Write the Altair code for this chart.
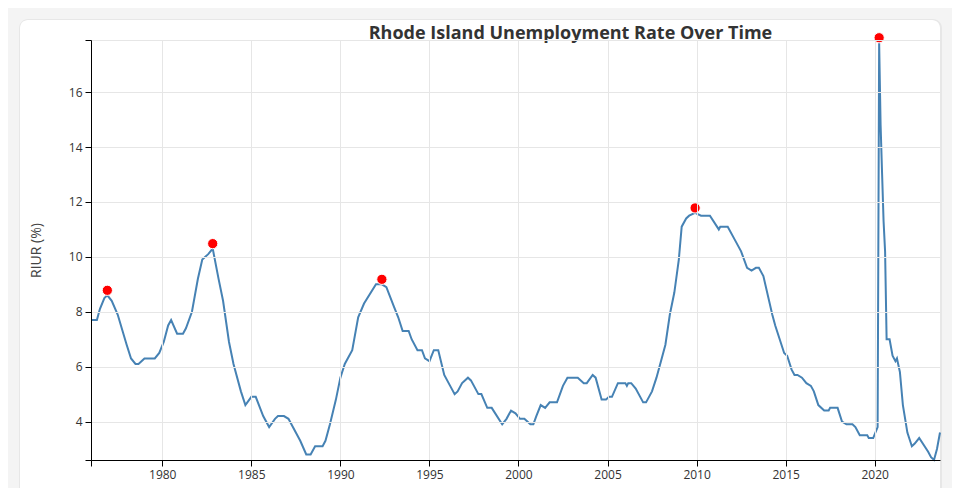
import altair as alt
import pandas as pd

# ---- data (monthly breakpoints) ----
months = [
    "1976-01", "1976-05", "1976-07", "1976-10", "1976-12", "1977-03", "1977-07", "1978-01",
    "1978-04", "1978-07", "1978-09", "1979-01", "1979-08", "1979-11", "1980-02", "1980-05",
    "1980-07", "1980-11", "1981-03", "1981-05", "1981-09", "1982-01", "1982-04", "1982-08",
    "1982-11", "1983-03", "1983-06", "1983-10", "1984-01", "1984-06", "1984-09", "1985-01",
    "1985-04", "1985-09", "1986-01", "1986-05", "1986-07", "1986-11", "1987-02", "1987-10",
    "1988-02", "1988-05", "1988-08", "1989-01", "1989-03", "1989-06", "1989-10", "1990-01",
    "1990-04", "1990-09", "1991-01", "1991-05", "1992-01", "1992-05", "1992-08", "1993-01",
    "1993-04", "1993-07", "1993-11", "1994-01", "1994-05", "1994-08", "1994-10", "1995-01",
    "1995-04", "1995-07", "1995-11", "1996-03", "1996-06", "1996-08", "1996-11", "1997-03",
    "1997-05", "1997-10", "1997-12", "1998-04", "1998-07", "1999-02", "1999-05", "1999-08",
    "1999-11", "2000-02", "2000-05", "2000-09", "2000-11", "2001-01", "2001-04", "2001-07",
    "2001-10", "2002-03", "2002-07", "2002-10", "2003-05", "2003-09", "2003-11", "2004-03",
    "2004-05", "2004-09", "2004-12", "2005-02", "2005-04", "2005-08", "2006-01", "2006-02",
    "2006-03", "2006-05", "2006-08", "2007-01", "2007-03", "2007-07", "2007-10", "2008-01",
    "2008-04", "2008-07", "2008-10", "2009-01", "2009-03", "2009-06", "2009-08", "2009-12",
    "2010-04", "2010-10", "2011-04", "2011-05", "2011-10", "2012-03", "2012-07", "2012-11",
    "2013-02", "2013-05", "2013-07", "2013-10", "2014-04", "2014-06", "2014-12", "2015-02",
    "2015-05", "2015-07", "2015-09", "2015-12", "2016-03", "2016-06", "2016-08", "2016-11",
    "2017-03", "2017-06", "2017-07", "2017-12", "2018-03", "2018-06", "2018-10", "2018-12",
    "2019-03", "2019-08", "2019-09", "2019-12", "2020-03", "2020-04", "2020-05", "2020-06",
    "2020-07", "2020-08", "2020-09", "2020-11", "2021-01", "2021-03", "2021-04", "2021-06",
    "2021-08", "2021-11", "2022-02", "2022-04", "2022-07", "2023-01", "2023-03", "2023-05",
    "2023-07", "2023-09",
]
rates = [
    7.7, 7.7, 8.1, 8.5, 8.6, 8.4, 7.9, 6.8,
    6.3, 6.1, 6.1, 6.3, 6.3, 6.5, 6.9, 7.5,
    7.7, 7.2, 7.2, 7.4, 8.0, 9.2, 9.9, 10.1,
    10.3, 9.2, 8.4, 6.9, 6.1, 5.1, 4.6, 4.9,
    4.9, 4.2, 3.8, 4.1, 4.2, 4.2, 4.1, 3.3,
    2.8, 2.8, 3.1, 3.1, 3.3, 3.9, 4.8, 5.6,
    6.1, 6.6, 7.8, 8.3, 9.0, 9.0, 8.9, 8.2,
    7.8, 7.3, 7.3, 7.0, 6.6, 6.6, 6.3, 6.2,
    6.6, 6.6, 5.7, 5.3, 5.0, 5.1, 5.4, 5.6,
    5.5, 5.0, 5.0, 4.5, 4.5, 3.9, 4.1, 4.4,
    4.3, 4.1, 4.1, 3.9, 3.9, 4.2, 4.6, 4.5,
    4.7, 4.7, 5.3, 5.6, 5.6, 5.4, 5.4, 5.7,
    5.6, 4.8, 4.8, 4.9, 4.9, 5.4, 5.4, 5.3,
    5.4, 5.4, 5.2, 4.7, 4.7, 5.1, 5.6, 6.2,
    6.8, 7.9, 8.7, 9.9, 11.1, 11.4, 11.5, 11.6,
    11.5, 11.5, 11.0, 11.1, 11.1, 10.6, 10.2, 9.6,
    9.5, 9.6, 9.6, 9.3, 7.9, 7.5, 6.5, 6.4,
    5.9, 5.7, 5.7, 5.6, 5.4, 5.3, 5.1, 4.6,
    4.4, 4.4, 4.5, 4.5, 4.0, 3.9, 3.9, 3.8,
    3.5, 3.5, 3.4, 3.4, 3.8, 17.8, 14.8, 13.0,
    11.3, 10.2, 7.0, 7.0, 6.4, 6.2, 6.3, 5.8,
    4.6, 3.6, 3.1, 3.2, 3.4, 2.9, 2.7, 2.6,
    3.0, 3.6,
]
peak_months = ["1976-12", "1982-11", "1992-05", "2009-12", "2020-04"]

y_tick_values = [2.6, 4, 6, 8, 10, 12, 14, 16, 17.9]
x_tick_years = [1976, 1980, 1985, 1990, 1995, 2000, 2005, 2010, 2015, 2020]
x_domain_start = (1976, 1)
x_domain_end = (2023, 9)

df = pd.DataFrame({"date": [m + "-01" for m in months], "rate": rates})
df["peak"] = [m in peak_months for m in months]

W, H = 849, 420
FONT = "Open Sans"

x_enc = alt.X(
    "date:T",
    scale=alt.Scale(
        type="utc",
        domain=[
            alt.DateTime(year=x_domain_start[0], month=x_domain_start[1], date=1, utc=True),
            alt.DateTime(year=x_domain_end[0], month=x_domain_end[1], date=1, utc=True),
        ],
    ),
    axis=alt.Axis(
        title=None,
        values=[alt.DateTime(year=y, month=1, date=1, utc=True) for y in x_tick_years],
        labelExpr="utcyear(datum.value) < 1978 ? '' : utcFormat(datum.value, '%Y')",
        grid=True,
        gridColor="#e6e6e6",
        domainColor="#000000",
        tickColor="#000000",
        tickSize=6,
        labelPadding=3,
        labelFont=FONT,
        labelFontSize=12,
        labelColor="#333333",
        labelFlush=False,
        labelOverlap=False,
        zindex=1,
    ),
)

y_enc = alt.Y(
    "rate:Q",
    scale=alt.Scale(domain=[y_tick_values[0], y_tick_values[-1]], nice=False, zero=False),
    axis=alt.Axis(
        title="RIUR (%)",
        values=y_tick_values,
        labelExpr="datum.value < 3 || datum.value > 17 ? '' : datum.label",
        grid=True,
        gridColor="#e6e6e6",
        domainColor="#000000",
        tickColor="#000000",
        tickSize=6,
        labelPadding=3,
        labelFont=FONT,
        labelFontSize=12,
        labelColor="#333333",
        labelFlush=False,
        labelOverlap=False,
        titleFont=FONT,
        titleFontSize=14,
        titleFontWeight="normal",
        titleColor="#444444",
        titleX=-55,
        titleY=H / 2,
        titleAngle=270,
        titleAlign="center",
        titleBaseline="middle",
        zindex=1,
    ),
)

one = pd.DataFrame({"k": [0]})
shadow = alt.Chart(one).mark_rect(color="#000000", opacity=0.05, cornerRadius=9).encode(
    x=alt.value(-72), x2=alt.value(W + 2), y=alt.value(-21), y2=alt.value(H + 80)
)
card = alt.Chart(one).mark_rect(color="#ffffff", cornerRadius=8).encode(
    x=alt.value(-71), x2=alt.value(W), y=alt.value(-20), y2=alt.value(H + 80)
)

line = alt.Chart(df).mark_line(color="#4682b4", strokeWidth=2).encode(x=x_enc, y=y_enc)

points = (
    alt.Chart(df)
    .transform_filter(alt.datum.peak)
    .mark_circle(size=105, color="#ff0000", opacity=1, stroke="#ffffff", strokeWidth=1, yOffset=-5)
    .encode(x="date:T", y="rate:Q")
)

chart = (
    alt.layer(shadow, card, line, points)
    .properties(
        width=W,
        height=H,
        background="#f4f4f4",
        padding={"left": 83, "top": 32, "right": 12, "bottom": 28},
        autosize=alt.AutoSizeParams(type="none"),
        title=alt.Title(
            "Rhode Island Unemployment Rate Over Time",
            font=FONT,
            fontSize=18,
            fontWeight="bold",
            color="#333333",
            anchor="middle",
            frame="group",
            baseline="alphabetic",
            offset=0,
            dx=55,
            dy=38,
        ),
    )
    .configure_view(stroke=None)
)

chart.save("out.html", embed_options={"renderer": "svg", "actions": False})
